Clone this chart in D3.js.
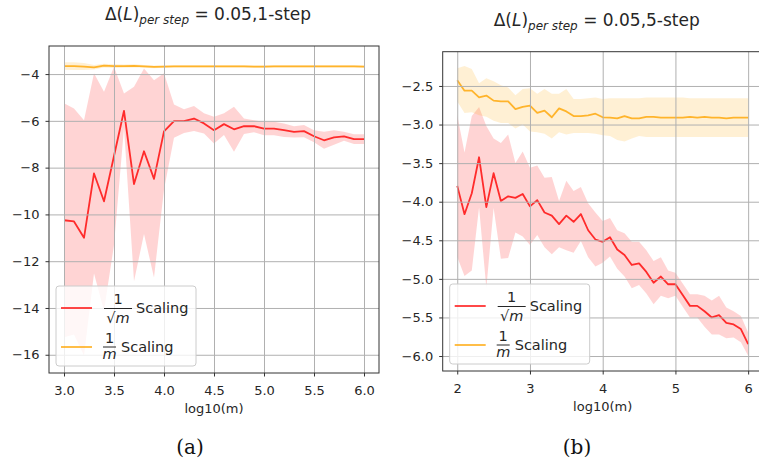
<!DOCTYPE html>
<html>
<head>
<meta charset="utf-8">
<script src="https://cdn.jsdelivr.net/npm/d3@7"></script>
<style>
body { margin: 0; background: #fff; }
svg { display: block; font-family: "DejaVu Sans", sans-serif; }
</style>
</head>
<body>
<svg id="chart"></svg>
<script>
var width = 759;
var height = 464;

// panel (a): 1-step
var xA = [3.0, 3.1, 3.2, 3.3, 3.4, 3.5, 3.6, 3.7, 3.8, 3.9, 4.0, 4.1, 4.2, 4.3, 4.4, 4.5,
          4.6, 4.7, 4.8, 4.9, 5.0, 5.1, 5.2, 5.3, 5.4, 5.5, 5.6, 5.7, 5.8, 5.9, 6.0];
var redMeanA = [-10.25, -10.3, -11.0, -8.25, -9.44, -7.5, -5.57, -8.7, -7.3, -8.48, -6.45,
                -6.01, -6.01, -5.9, -6.11, -6.4, -6.14, -6.36, -6.23, -6.23, -6.33,
                -6.33, -6.4, -6.47, -6.44, -6.66, -6.83, -6.71, -6.66, -6.78, -6.78];
var redStdA = [5.0, 4.83, 5.03, 4.28, 4.68, 3.81, 0.74, 4.16, 3.54, 4.22, 2.48,
               0.71, 0.51, 0.53, 0.43, 0.57, 0.46, 0.96, 0.33, 0.26, 0.29,
               0.29, 0.29, 0.24, 0.26, 0.26, 0.36, 0.31, 0.19, 0.21, 0.21];
var orangeMeanA = [-3.66, -3.66, -3.68, -3.71, -3.64, -3.66, -3.66, -3.65, -3.67, -3.69, -3.68,
                   -3.67, -3.67, -3.67, -3.67, -3.67, -3.67, -3.67, -3.67, -3.68, -3.68,
                   -3.67, -3.67, -3.67, -3.67, -3.67, -3.67, -3.67, -3.67, -3.67, -3.68];
var orangeStdA = [0.16, 0.17, 0.15, 0.10, 0.08, 0.08, 0.07, 0.07, 0.06, 0.06, 0.05,
                  0.05, 0.05, 0.05, 0.05, 0.05, 0.05, 0.05, 0.05, 0.05, 0.05,
                  0.05, 0.05, 0.05, 0.05, 0.05, 0.05, 0.05, 0.05, 0.05, 0.05];
var xTicksA = [3.0, 3.5, 4.0, 4.5, 5.0, 5.5, 6.0];
var yTicksA = [-16, -14, -12, -10, -8, -6, -4];

// panel (b): 5-step
var xB = [2.0, 2.1, 2.2, 2.3, 2.4, 2.5, 2.6, 2.7, 2.8, 2.9, 3.0, 3.1, 3.2, 3.3, 3.4, 3.5,
          3.6, 3.7, 3.8, 3.9, 4.0, 4.1, 4.2, 4.3, 4.4, 4.5, 4.6, 4.7, 4.8, 4.9, 5.0,
          5.1, 5.2, 5.3, 5.4, 5.5, 5.6, 5.7, 5.8, 5.9, 6.0];
var redMeanB = [-3.795, -4.162, -3.89, -3.424, -4.07, -3.63, -3.99, -3.93, -3.95, -3.90, -4.06,
                -3.98, -4.14, -4.18, -4.29, -4.18, -4.26, -4.16, -4.37, -4.49, -4.52,
                -4.46, -4.62, -4.69, -4.82, -4.80, -4.91, -5.05, -4.97, -5.07, -5.07,
                -5.21, -5.35, -5.35, -5.42, -5.50, -5.47, -5.57, -5.59, -5.65, -5.846];
var redStdB = [0.92, 0.8, 1.0, 0.65, 1.05, 0.45, 0.75, 0.8, 0.45, 0.55, 0.5,
               0.45, 0.45, 0.5, 0.3, 0.45, 0.4, 0.35, 0.35, 0.35, 0.27,
               0.25, 0.25, 0.28, 0.3, 0.28, 0.28, 0.28, 0.25, 0.18, 0.15,
               0.15, 0.15, 0.15, 0.2, 0.22, 0.25, 0.2, 0.17, 0.17, 0.15];
var orangeMeanB = [-2.426, -2.561, -2.561, -2.647, -2.625, -2.69, -2.70, -2.70, -2.80, -2.77, -2.755,
                   -2.85, -2.82, -2.906, -2.79, -2.83, -2.89, -2.89, -2.88, -2.86, -2.906,
                   -2.91, -2.92, -2.89, -2.92, -2.92, -2.90, -2.90, -2.91, -2.91, -2.91,
                   -2.91, -2.90, -2.91, -2.90, -2.91, -2.91, -2.92, -2.91, -2.91, -2.91];
var orangeUpperB = [-2.27, -2.24, -2.28, -2.465, -2.40, -2.44, -2.49, -2.52, -2.62, -2.54, -2.53,
                    -2.60, -2.54, -2.60, -2.60, -2.54, -2.67, -2.67, -2.66, -2.65, -2.67,
                    -2.66, -2.66, -2.66, -2.66, -2.66, -2.65, -2.65, -2.65, -2.65, -2.65,
                    -2.65, -2.66, -2.66, -2.66, -2.66, -2.66, -2.66, -2.66, -2.66, -2.66];
var orangeLowerB = [-2.70, -2.85, -2.84, -2.88, -2.90, -2.95, -2.98, -2.98, -3.05, -3.00, -3.09,
                    -3.10, -3.12, -3.18, -3.10, -3.13, -3.11, -3.11, -3.11, -3.12, -3.14,
                    -3.15, -3.20, -3.22, -3.18, -3.15, -3.16, -3.16, -3.16, -3.16, -3.16,
                    -3.16, -3.16, -3.16, -3.16, -3.16, -3.16, -3.16, -3.16, -3.16, -3.16];
var xTicksB = [2, 3, 4, 5, 6];
var yTicksB = [-6.0, -5.5, -5.0, -4.5, -4.0, -3.5, -3.0, -2.5];

var redColor = '#ff0000';
var orangeColor = '#ffa500';
var textColor = '#262626';

var svg = d3.select('#chart')
    .attr('width', width)
    .attr('height', height);

function bandRows(xs, mean, std, lower, upper) {
  return xs.map(function(xv, i) {
    return {
      x: xv,
      m: mean[i],
      lo: lower ? lower[i] : mean[i] - std[i],
      hi: upper ? upper[i] : mean[i] + std[i]
    };
  });
}

function drawPanel(p) {
  var g = svg.append('g');
  var x = d3.scaleLinear().domain(p.xDomain).range([p.left, p.right]);
  var y = d3.scaleLinear().domain(p.yDomain).range([p.bottom, p.top]);

  svg.append('clipPath').attr('id', 'clip-' + p.id)
    .append('rect')
    .attr('x', p.left).attr('y', p.top)
    .attr('width', p.right - p.left).attr('height', p.bottom - p.top);

  var plot = g.append('g').attr('clip-path', 'url(#clip-' + p.id + ')');

  // shaded bands first
  p.series.forEach(function(s) {
    plot.append('path')
      .datum(s.rows)
      .attr('fill', s.color)
      .attr('fill-opacity', 0.17)
      .attr('d', d3.area().x(d => x(d.x)).y0(d => y(d.lo)).y1(d => y(d.hi)));
  });

  // grid sits above the bands, below the lines
  g.append('g')
    .attr('transform', 'translate(0,' + p.bottom + ')')
    .call(d3.axisBottom(x).tickValues(p.xTicks).tickSize(-(p.bottom - p.top)).tickFormat(''))
    .call(function(a) {
      a.select('.domain').remove();
      a.selectAll('line').attr('stroke', '#b0b0b0').attr('stroke-width', 1);
    });
  g.append('g')
    .attr('transform', 'translate(' + p.left + ',0)')
    .call(d3.axisLeft(y).tickValues(p.yTicks).tickSize(-(p.right - p.left)).tickFormat(''))
    .call(function(a) {
      a.select('.domain').remove();
      a.selectAll('line').attr('stroke', '#b0b0b0').attr('stroke-width', 1);
    });

  p.series.forEach(function(s) {
    plot.append('path')
      .datum(s.rows)
      .attr('fill', 'none')
      .attr('stroke', s.color)
      .attr('stroke-opacity', 0.8)
      .attr('stroke-width', 1.8)
      .attr('stroke-linejoin', 'round')
      .attr('d', d3.line().x(d => x(d.x)).y(d => y(d.m)));
  });

  // spines
  g.append('rect')
    .attr('x', p.left).attr('y', p.top)
    .attr('width', p.right - p.left).attr('height', p.bottom - p.top)
    .attr('fill', 'none')
    .attr('stroke', '#333')
    .attr('stroke-width', 1);

  var xAxis = g.append('g')
    .attr('transform', 'translate(0,' + p.bottom + ')')
    .call(d3.axisBottom(x).tickValues(p.xTicks).tickFormat(d3.format(p.xFormat))
      .tickSize(3.5).tickPadding(9).tickSizeOuter(0));
  var yAxis = g.append('g')
    .attr('transform', 'translate(' + p.left + ',0)')
    .call(d3.axisLeft(y).tickValues(p.yTicks).tickFormat(d3.format(p.yFormat))
      .tickSize(3.5).tickPadding(6).tickSizeOuter(0));
  [xAxis, yAxis].forEach(function(a) {
    a.select('.domain').remove();
    a.selectAll('line').attr('stroke', '#333');
    a.selectAll('text')
      .attr('fill', textColor)
      .style('font-family', '"DejaVu Sans", sans-serif')
      .style('font-size', '13px');
  });

  g.append('text')
    .attr('x', (p.left + p.right) / 2)
    .attr('y', p.bottom + 40)
    .attr('text-anchor', 'middle')
    .attr('fill', textColor)
    .style('font-size', '13px')
    .text('log10(m)');

  // title with mathtext-like subscript
  var title = g.append('text')
    .attr('x', (p.left + p.right) / 2 - 6)
    .attr('y', p.top - 26)
    .attr('text-anchor', 'middle')
    .attr('fill', textColor)
    .style('font-size', '17px');
  title.append('tspan').text('Δ(');
  title.append('tspan').style('font-style', 'italic').text('L');
  title.append('tspan').text(')');
  title.append('tspan').attr('dy', 4).style('font-style', 'italic').style('font-size', '12px').text('per step');
  title.append('tspan').attr('dy', -4).text(' = ' + p.title);

  g.append('text')
    .attr('x', p.captionX)
    .attr('y', 454)
    .attr('text-anchor', 'middle')
    .attr('fill', '#111')
    .style('font-family', '"DejaVu Serif", serif')
    .style('font-size', '20px')
    .text(p.caption);

  drawLegend(g, p.left + 7, p.bottom - 87, p.series);
}

function drawLegend(g, bx, by, series) {
  var lg = g.append('g').style('font-size', '14.5px').attr('fill', textColor);
  lg.append('rect')
    .attr('x', bx).attr('y', by)
    .attr('width', 140).attr('height', 80)
    .attr('rx', 3)
    .attr('fill', '#fff').attr('fill-opacity', 0.8)
    .attr('stroke', '#cccccc');

  // 1/sqrt(m) entry
  lg.append('line')
    .attr('x1', bx + 5).attr('x2', bx + 36)
    .attr('y1', by + 22).attr('y2', by + 22)
    .attr('stroke', series[0].color).attr('stroke-opacity', 0.8).attr('stroke-width', 1.8);
  lg.append('text').attr('x', bx + 62).attr('y', by + 18).attr('text-anchor', 'middle').text('1');
  lg.append('line')
    .attr('x1', bx + 48).attr('x2', bx + 76)
    .attr('y1', by + 22.5).attr('y2', by + 22.5)
    .attr('stroke', textColor).attr('stroke-width', 1);
  var den = lg.append('text').attr('x', bx + 62).attr('y', by + 37).attr('text-anchor', 'middle');
  den.append('tspan').text('√');
  den.append('tspan').style('font-style', 'italic').text('m');
  lg.append('text').attr('x', bx + 80).attr('y', by + 27).text('Scaling');

  // 1/m entry
  lg.append('line')
    .attr('x1', bx + 5).attr('x2', bx + 36)
    .attr('y1', by + 61).attr('y2', by + 61)
    .attr('stroke', series[1].color).attr('stroke-opacity', 0.8).attr('stroke-width', 1.8);
  lg.append('text').attr('x', bx + 53.5).attr('y', by + 57).attr('text-anchor', 'middle').text('1');
  lg.append('line')
    .attr('x1', bx + 47).attr('x2', bx + 60)
    .attr('y1', by + 61).attr('y2', by + 61)
    .attr('stroke', textColor).attr('stroke-width', 1);
  lg.append('text').attr('x', bx + 53.5).attr('y', by + 73).attr('text-anchor', 'middle')
    .style('font-style', 'italic').text('m');
  lg.append('text').attr('x', bx + 65).attr('y', by + 66).text('Scaling');
}

drawPanel({
  id: 'a',
  left: 49, right: 379, top: 46, bottom: 373,
  xDomain: [2.85, 6.15], yDomain: [-16.78, -2.8],
  xTicks: xTicksA, yTicks: yTicksA, xFormat: '.1f', yFormat: 'd',
  title: '0.05,1-step', caption: '(a)', captionX: 190,
  series: [
    { color: redColor, rows: bandRows(xA, redMeanA, redStdA) },
    { color: orangeColor, rows: bandRows(xA, orangeMeanA, orangeStdA) }
  ]
});

drawPanel({
  id: 'b',
  left: 442.7, right: 762.7, top: 51.7, bottom: 371,
  xDomain: [1.8, 6.2], yDomain: [-6.194, -2.056],
  xTicks: xTicksB, yTicks: yTicksB, xFormat: 'd', yFormat: '.1f',
  title: '0.05,5-step', caption: '(b)', captionX: 577,
  series: [
    { color: redColor, rows: bandRows(xB, redMeanB, redStdB) },
    { color: orangeColor, rows: bandRows(xB, orangeMeanB, null, orangeLowerB, orangeUpperB) }
  ]
});
</script>
</body>
</html>
